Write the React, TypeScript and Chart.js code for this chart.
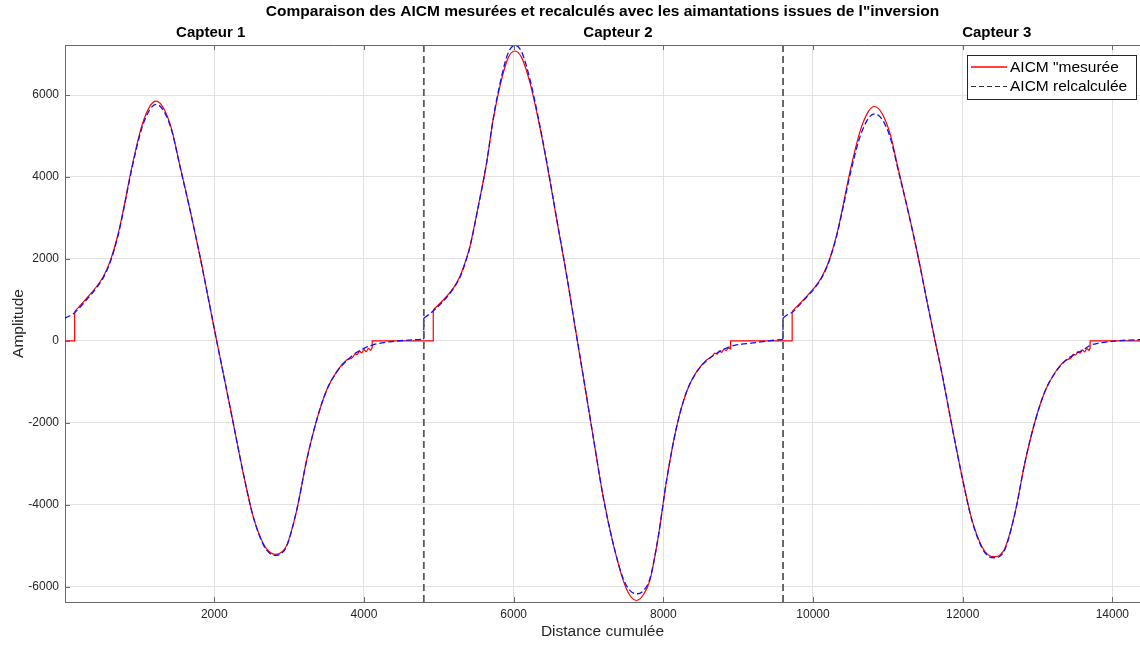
import { useEffect, useRef } from "react";
import { Chart, registerables } from "chart.js";

Chart.register(...registerables);

const FONT = '"Liberation Sans", Arial, Helvetica, sans-serif';

const titleText = 'Comparaison des AICM mesurées et recalculés avec les aimantations issues de l"inversion';
const sensorLabels = ["Capteur 1", "Capteur 2", "Capteur 3"];
const sensorLabelX = [1952, 7394, 12456];
const separatorX = [4800, 9600];
const legendLabels = ['AICM "mesurée', "AICM relcalculée"];
const xTitle = "Distance cumulée";
const yTitle = "Amplitude";
const xRange = [5, 14370];
const yRange = [-6370, 7220];
const xTickValues = [2000, 4000, 6000, 8000, 10000, 12000, 14000];
const yTickValues = [-6000, -4000, -2000, 0, 2000, 4000, 6000];

// Measured AICM (red) — smooth parts of each sensor
const measuredX1 = [135, 295, 428, 517, 607, 718, 785, 896, 1030, 1141, 1221, 1319, 1431, 1542, 1675, 1809, 1920, 2032, 2121, 2254, 2388, 2521, 2655, 2740, 2824, 2900, 2967, 3101, 3234, 3368, 3502, 3635, 3769, 3850, 3880, 3910, 3940, 3970, 4000, 4030, 4060, 4090, 4109];
const measuredY1 = [717, 1043, 1328, 1573, 1940, 2633, 3203, 4222, 5240, 5729, 5851, 5689, 5159, 4262, 3203, 2062, 1040, 0, -800, -2013, -3235, -4295, -4947, -5150, -5208, -5150, -4988, -4132, -2910, -1932, -1198, -750, -465, -400, -320, -330, -250, -290, -210, -260, -180, -230, -160];
const measuredX2 = [4927, 5104, 5193, 5282, 5349, 5416, 5527, 5639, 5727, 5839, 5928, 6017, 6107, 6218, 6329, 6462, 6574, 6708, 6832, 6930, 7063, 7197, 7330, 7464, 7550, 7643, 7730, 7821, 7932, 8044, 8178, 8311, 8445, 8578, 8650, 8690, 8720, 8750, 8780, 8810, 8840, 8870, 8898];
const measuredY2 = [758, 1084, 1288, 1573, 1900, 2306, 3284, 4344, 5403, 6381, 6912, 7074, 6912, 6300, 5403, 4150, 2980, 1600, 220, -860, -2339, -3806, -4947, -5843, -6200, -6333, -6200, -5843, -4785, -3399, -2095, -1239, -750, -465, -380, -300, -320, -240, -280, -200, -240, -170, -200];
const measuredX3 = [9723, 9895, 10028, 10117, 10207, 10318, 10385, 10496, 10630, 10741, 10821, 10919, 11031, 11142, 11275, 11409, 11520, 11632, 11721, 11854, 11988, 12121, 12255, 12340, 12424, 12500, 12567, 12701, 12834, 12968, 13102, 13235, 13369, 13450, 13480, 13510, 13540, 13570, 13600, 13630, 13660, 13690, 13702];
const measuredY3 = [720, 1050, 1320, 1560, 1920, 2600, 3150, 4140, 5120, 5600, 5720, 5560, 5050, 4180, 3140, 2020, 1000, 0, -780, -2050, -3270, -4340, -5010, -5220, -5265, -5220, -5050, -4190, -2950, -1960, -1220, -770, -480, -410, -330, -340, -260, -300, -220, -270, -190, -230, -170];
// Measured AICM — flat zero parts and vertical jumps (null = break)
const measuredStepX = [5, 134, 134, null, 4109, 4110, 4926, 4926, null, 8898, 8899, 9722, 9722, null, 13702, 13703, 14370];
const measuredStepY = [0, 0, 717, null, -160, 0, 0, 758, null, -200, 0, 0, 720, null, -170, 0, 0];

// Recalculated AICM (blue dashed)
const recalcX1 = [5, 134, 295, 428, 517, 607, 718, 785, 896, 1030, 1141, 1221, 1319, 1431, 1542, 1675, 1809, 1920, 2032, 2121, 2254, 2388, 2521, 2655, 2740, 2824, 2900, 2967, 3101, 3234, 3368, 3502, 3635, 3769, 3902, 4000, 4103, 4200, 4400, 4600, 4799];
const recalcY1 = [555, 690, 1010, 1300, 1545, 1910, 2600, 3170, 4180, 5180, 5650, 5770, 5630, 5130, 4250, 3200, 2062, 1040, 0, -800, -2013, -3235, -4295, -4970, -5180, -5230, -5180, -5010, -4132, -2910, -1932, -1198, -760, -480, -280, -180, -110, -60, -10, 20, 40];
const recalcX2 = [4800, 4860, 4926, 5104, 5193, 5282, 5349, 5416, 5527, 5639, 5727, 5839, 5928, 6017, 6107, 6218, 6329, 6462, 6574, 6708, 6832, 6930, 7063, 7197, 7330, 7464, 7550, 7643, 7730, 7821, 7932, 8044, 8178, 8311, 8445, 8578, 8733, 8850, 8950, 9200, 9400, 9599];
const recalcY2 = [560, 636, 730, 1060, 1270, 1550, 1880, 2290, 3270, 4350, 5420, 6450, 7030, 7213, 7050, 6380, 5450, 4170, 2990, 1610, 220, -860, -2339, -3806, -4947, -5800, -6080, -6169, -6100, -5800, -4785, -3399, -2095, -1239, -760, -480, -280, -170, -110, -50, 0, 40];
const recalcX3 = [9600, 9660, 9723, 9895, 10028, 10117, 10207, 10318, 10385, 10496, 10630, 10741, 10821, 10919, 11031, 11142, 11275, 11409, 11520, 11632, 11721, 11854, 11988, 12121, 12255, 12340, 12424, 12500, 12567, 12701, 12834, 12968, 13102, 13235, 13369, 13502, 13600, 13703, 13800, 14000, 14200, 14370];
const recalcY3 = [560, 640, 700, 1030, 1300, 1540, 1900, 2570, 3110, 4060, 4990, 5430, 5540, 5420, 4970, 4140, 3130, 2020, 1000, 0, -760, -2050, -3280, -4360, -5040, -5250, -5290, -5250, -5080, -4190, -2950, -1960, -1220, -780, -490, -320, -230, -110, -60, -10, 20, 30];
// Recalculated AICM — vertical jumps at sensor boundaries
const recalcStepX = [4799, 4800, null, 9599, 9600];
const recalcStepY = [40, 560, null, 40, 560];

const toPoints = (xs: number[], ys: number[]) => xs.map((x, i) => ({ x, y: ys[i] }));

// split arrays at null breaks into separate point lists
const splitPieces = (xs: (number | null)[], ys: (number | null)[]) => {
  const pieces: { x: number; y: number }[][] = [];
  let cur: { x: number; y: number }[] = [];
  xs.forEach((x, i) => {
    const y = ys[i];
    if (x === null || y === null) {
      if (cur.length) pieces.push(cur);
      cur = [];
    } else cur.push({ x, y });
  });
  if (cur.length) pieces.push(cur);
  return pieces;
};

const AXIS_COLOR = "#6a6a6a";
const GRID_COLOR = "#e2e2e2";
const TEXT_COLOR = "#262626";
const RED = "#ff0000";
const BLUE = "#1010ff";

const decorPlugin = {
  id: "decor",
  afterDatasetsDraw(chart: any) {
    const { ctx, chartArea, scales } = chart;
    const xs = scales.x;
    const ys = scales.y;
    ctx.save();
    ctx.strokeStyle = AXIS_COLOR;
    ctx.lineWidth = 1;
    ctx.beginPath();
    ctx.moveTo(chartArea.left, chartArea.top + 0.5);
    ctx.lineTo(chartArea.right, chartArea.top + 0.5);
    xTickValues.forEach((v) => {
      const px = Math.round(xs.getPixelForValue(v)) + 0.5;
      ctx.moveTo(px, chartArea.bottom);
      ctx.lineTo(px, chartArea.bottom - 5);
      ctx.moveTo(px, chartArea.top);
      ctx.lineTo(px, chartArea.top + 5);
    });
    yTickValues.forEach((v) => {
      const py = Math.round(ys.getPixelForValue(v)) + 0.5;
      ctx.moveTo(chartArea.left, py);
      ctx.lineTo(chartArea.left + 5, py);
    });
    ctx.stroke();

    ctx.fillStyle = "#000";
    ctx.textAlign = "center";
    ctx.textBaseline = "middle";
    ctx.font = `bold 15.5px ${FONT}`;
    ctx.fillText(titleText, (chartArea.left + chartArea.right) / 2, 12);
    ctx.font = `bold 15px ${FONT}`;
    sensorLabels.forEach((s, i) => {
      ctx.fillText(s, xs.getPixelForValue(sensorLabelX[i]), 33);
    });

    const bx = 967.5, by = 55.5, bw = 169, bh = 44;
    ctx.fillStyle = "#fff";
    ctx.fillRect(bx, by, bw, bh);
    ctx.strokeStyle = "#262626";
    ctx.lineWidth = 1;
    ctx.strokeRect(bx, by, bw, bh);
    ctx.lineWidth = 1.5;
    ctx.strokeStyle = RED;
    ctx.beginPath();
    ctx.moveTo(971, 67);
    ctx.lineTo(1007, 67);
    ctx.stroke();
    ctx.lineWidth = 1.2;
    ctx.strokeStyle = "#333";
    ctx.setLineDash([5, 3]);
    ctx.beginPath();
    ctx.moveTo(971, 86.5);
    ctx.lineTo(1007, 86.5);
    ctx.stroke();
    ctx.setLineDash([]);
    ctx.fillStyle = "#000";
    ctx.textAlign = "left";
    ctx.font = `15.5px ${FONT}`;
    ctx.fillText(legendLabels[0], 1010, 68);
    ctx.fillText(legendLabels[1], 1010, 87);
    ctx.restore();
  },
};

export default function App() {
  const ref = useRef<HTMLCanvasElement | null>(null);
  useEffect(() => {
    if (!ref.current) return;
    const curve = (pts: { x: number; y: number }[], color: string, dash: number[], width: number, order: number) => ({
      data: pts,
      borderColor: color,
      borderWidth: width,
      borderDash: dash,
      pointRadius: 0,
      cubicInterpolationMode: "monotone",
      fill: false,
      order,
    });
    const straight = (pts: { x: number; y: number }[], color: string, dash: number[], width: number, order: number) => ({
      data: pts,
      borderColor: color,
      borderWidth: width,
      borderDash: dash,
      pointRadius: 0,
      tension: 0,
      fill: false,
      order,
    });
    const separators = separatorX.map((sx) =>
      straight(toPoints([sx, sx], [yRange[0], yRange[1]]), "#5a5a5a", [7, 4], 1.8, 1)
    );
    const chart = new Chart(ref.current, {
      type: "line",
      data: {
        datasets: [
          curve(toPoints(measuredX1, measuredY1), RED, [], 1.2, 3),
          curve(toPoints(measuredX2, measuredY2), RED, [], 1.2, 3),
          curve(toPoints(measuredX3, measuredY3), RED, [], 1.2, 3),
          ...splitPieces(measuredStepX, measuredStepY).map((p) => straight(p, RED, [], 1.2, 3)),
          curve(toPoints(recalcX1, recalcY1), BLUE, [6, 3], 1.3, 2),
          curve(toPoints(recalcX2, recalcY2), BLUE, [6, 3], 1.3, 2),
          curve(toPoints(recalcX3, recalcY3), BLUE, [6, 3], 1.3, 2),
          ...splitPieces(recalcStepX, recalcStepY).map((p) => straight(p, BLUE, [6, 3], 1.3, 2)),
          ...separators,
        ] as any,
      },
      options: {
        animation: false,
        responsive: false,
        maintainAspectRatio: false,
        layout: { padding: { top: 45, right: 0, left: 0, bottom: 0 } },
        plugins: {
          legend: { display: false },
          title: { display: false },
          tooltip: { enabled: false },
        },
        scales: {
          x: {
            type: "linear",
            min: xRange[0],
            max: xRange[1],
            afterBuildTicks: (axis: any) => {
              axis.ticks = xTickValues.map((v) => ({ value: v }));
            },
            afterFit: (axis: any) => {
              axis.height = 43;
            },
            ticks: {
              autoSkip: false,
              maxRotation: 0,
              padding: 5,
              color: TEXT_COLOR,
              font: { family: FONT, size: 12 },
              callback: (v: any) => String(v),
            },
            grid: { color: GRID_COLOR, drawTicks: false, lineWidth: 1 },
            border: { display: true, color: AXIS_COLOR, width: 1 },
            title: {
              display: true,
              text: xTitle,
              color: TEXT_COLOR,
              font: { family: FONT, size: 15.5 },
              padding: { top: 0, bottom: 4 },
            },
          },
          y: {
            type: "linear",
            min: yRange[0],
            max: yRange[1],
            afterBuildTicks: (axis: any) => {
              axis.ticks = yTickValues.map((v) => ({ value: v }));
            },
            afterFit: (axis: any) => {
              axis.width = 65;
            },
            ticks: {
              autoSkip: false,
              padding: 6,
              color: TEXT_COLOR,
              font: { family: FONT, size: 12 },
              callback: (v: any) => String(v),
            },
            grid: { color: GRID_COLOR, drawTicks: false, lineWidth: 1 },
            border: { display: true, color: AXIS_COLOR, width: 1 },
            title: {
              display: true,
              text: yTitle,
              color: TEXT_COLOR,
              font: { family: FONT, size: 15.5 },
              padding: { top: 9, bottom: 0 },
            },
          },
        },
      } as any,
      plugins: [decorPlugin],
    });
    return () => chart.destroy();
  }, []);
  return (
    <div style={{ position: "fixed", left: 0, top: 0, width: 1140, height: 645, background: "#fff" }}>
      <canvas ref={ref} width={1140} height={645} style={{ display: "block" }} />
    </div>
  );
}
